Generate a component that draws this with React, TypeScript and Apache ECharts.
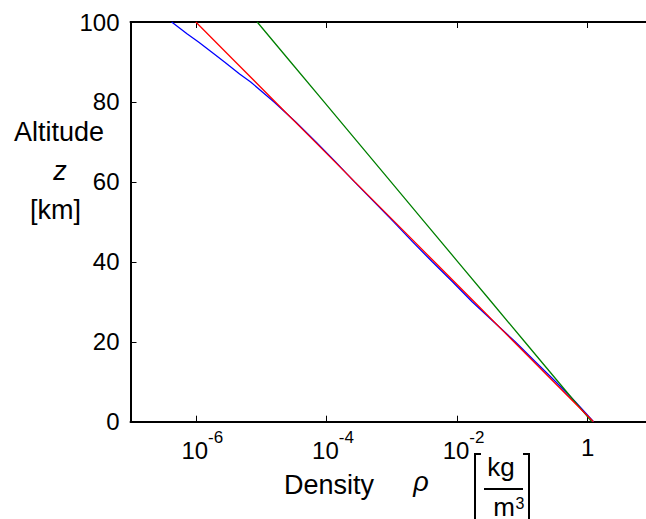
import React, { useEffect, useRef } from "react";
import * as echarts from "echarts";

// Altitude z [km] and density rho [kg/m^3]
const blueAltitude = [0, 5, 10, 15, 20, 25, 30, 35, 40, 45, 50, 55, 60, 65, 70, 75, 80, 85, 87, 90, 92, 95, 97, 100];
const blueDensity = [
  1.23, 0.646, 0.324, 0.158, 0.0776, 0.0363, 0.017, 0.00851, 0.00417, 0.00209, 0.00107, 0.000537,
  0.000269, 0.000138, 6.92e-5, 3.39e-5, 1.58e-5, 6.92e-6, 4.68e-6, 2.75e-6, 1.91e-6, 1.1e-6, 7.41e-7, 4.27e-7,
];

const redAltitude = [0, 10, 20, 30, 40, 50, 60, 70, 80, 90, 100];
const redDensity = [1.225, 0.301, 0.0742, 0.0183, 0.0045, 0.00111, 0.000272, 6.7e-5, 1.65e-5, 4.06e-6, 1.0e-6];

const greenAltitude = [0, 10, 20, 30, 40, 50, 60, 70, 80, 90, 100];
const greenDensity = [1.15, 0.353, 0.1086, 0.0334, 0.01028, 0.00316, 9.73e-4, 2.99e-4, 9.2e-5, 2.83e-5, 8.7e-6];

const xMin = 1e-7;
const xMax = 10;
const xTickValues = [1e-6, 1e-4, 1e-2, 1];
const yTicks = [0, 20, 40, 60, 80, 100];

const FONT = "Liberation Sans, Arial, sans-serif";

function pairs(xs: number[], ys: number[]) {
  return xs.map((x, i) => [x, ys[i]]);
}

function bar(x: number, y: number, width: number, height: number, fill = "#000") {
  return { type: "rect", z: 100, shape: { x, y, width, height }, style: { fill } };
}

function label(text: string, x: number, y: number, fontSize: number, extra: Record<string, unknown> = {}) {
  return {
    type: "text",
    x,
    y,
    style: { text, fontSize, fontFamily: FONT, fill: "#000", textAlign: "center", textVerticalAlign: "middle", ...extra },
  };
}

function mkAxisLine() {
  return { show: true, onZero: false, lineStyle: { color: "#000", width: 2 } };
}

function mkXTick() {
  return { show: true, inside: true, length: 6, customValues: xTickValues.slice(), lineStyle: { color: "#000", width: 1 } };
}

export default function App() {
  const ref = useRef<HTMLDivElement>(null);
  useEffect(() => {
    if (!ref.current) return;
    const chart = echarts.init(ref.current, null, { renderer: "svg" });
    const axisLabelRich = {
      p: { width: 13, fontSize: 24, fontFamily: FONT, lineHeight: 34 },
      b: { fontSize: 24, fontFamily: FONT, color: "#000", verticalAlign: "bottom", lineHeight: 34 },
      s: { fontSize: 17, fontFamily: FONT, color: "#000", verticalAlign: "top", lineHeight: 17 },
      one: { fontSize: 24, fontFamily: FONT, color: "#000", verticalAlign: "middle", lineHeight: 37 },
    };
    const fmt = (v: number) => {
      const e = Math.round(Math.log10(v));
      if (e === 0) return "{one|1}";
      return "{p|}{b|10}{s|" + e + "}";
    };
    chart.setOption({
      animation: false,
      backgroundColor: "#fff",
      grid: { left: 130.5, right: -7, top: 22, bottom: 97.3, containLabel: false, outerBoundsMode: "none" },
      xAxis: [
        {
          type: "log",
          logBase: 10,
          min: xMin,
          max: xMax,
          position: "bottom",
          axisLine: mkAxisLine(),
          axisTick: mkXTick(),
          splitLine: { show: false },
          minorTick: { show: false },
          minorSplitLine: { show: false },
          axisLabel: { show: true, margin: 7, customValues: xTickValues.slice(), formatter: fmt, rich: axisLabelRich },
        },
        {
          type: "log",
          logBase: 10,
          min: xMin,
          max: xMax,
          position: "top",
          axisLine: mkAxisLine(),
          axisTick: mkXTick(),
          splitLine: { show: false },
          minorTick: { show: false },
          minorSplitLine: { show: false },
          axisLabel: { show: false },
        },
      ],
      yAxis: [
        {
          type: "value",
          position: "left",
          min: yTicks[0],
          max: yTicks[yTicks.length - 1],
          interval: 20,
          axisLine: mkAxisLine(),
          axisTick: { show: true, inside: true, length: 6, lineStyle: { color: "#000", width: 1 } },
          axisLabel: { show: true, margin: 11, fontSize: 24, fontFamily: FONT, color: "#000" },
          splitLine: { show: false },
        },
      ],
      series: [
        { type: "line", data: pairs(blueDensity, blueAltitude), showSymbol: false, lineStyle: { color: "#0000ff", width: 1.3 } },
        { type: "line", data: pairs(greenDensity, greenAltitude), showSymbol: false, lineStyle: { color: "#008000", width: 1.3 } },
        { type: "line", data: pairs(redDensity, redAltitude), showSymbol: false, lineStyle: { color: "#ff0000", width: 1.3 } },
      ],
      graphic: {
        elements: [
          bar(634, 24, 12, 397, "#fff"),
          label("Altitude", 59, 132, 27),
          label("z", 60, 171, 27, { fontStyle: "italic" }),
          label("[km]", 55.5, 210, 27),
          label("Density", 284, 485, 27, { textAlign: "left" }),
          label("ρ", 421, 482, 27, { fontStyle: "italic" }),
          label("kg", 501, 467, 26),
          label("m", 504, 507, 26),
          label("3", 520, 503, 16),
          bar(484, 488, 39, 2),
          bar(474, 453, 7, 2),
          bar(474, 453, 2, 70),
          bar(523, 453, 7, 2),
          bar(528, 453, 2, 70),
        ],
      },
    });
    return () => chart.dispose();
  }, []);
  return <div ref={ref} style={{ width: 646, height: 519, position: "absolute", left: 0, top: 0 }} />;
}
